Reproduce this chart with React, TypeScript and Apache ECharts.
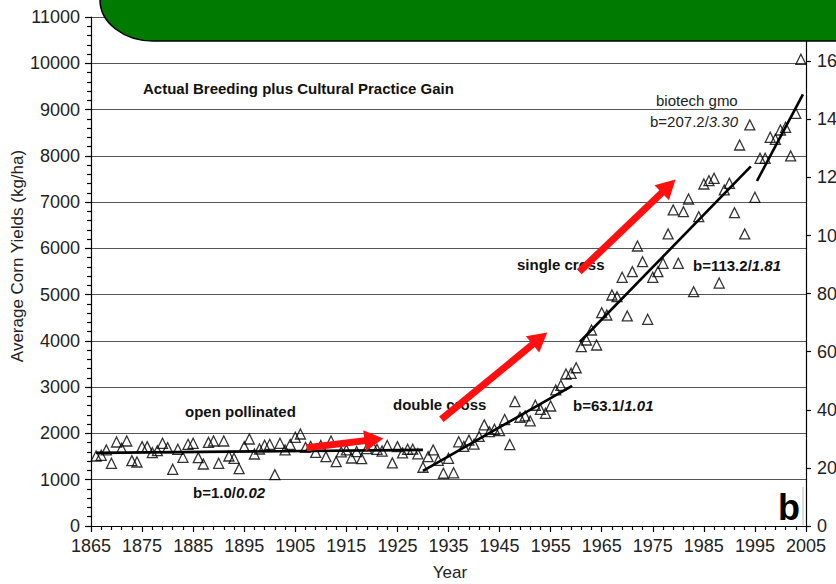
import React, { useEffect, useRef } from 'react';
import * as echarts from 'echarts';

const BASE_YEAR = 1865;
const BU_PER_ACRE_TO_KG_PER_HA = 62.77;

const xTickLabels = [1865, 1875, 1885, 1895, 1905, 1915, 1925, 1935, 1945, 1955, 1965, 1975, 1985, 1995, 2005];

const years = [
  1866, 1867, 1868, 1869, 1870, 1871, 1872, 1873, 1874, 1875,
  1876, 1877, 1878, 1879, 1880, 1881, 1882, 1883, 1884, 1885,
  1886, 1887, 1888, 1889, 1890, 1891, 1892, 1893, 1894, 1895,
  1896, 1897, 1898, 1899, 1900, 1901, 1902, 1903, 1904, 1905,
  1906, 1907, 1908, 1909, 1910, 1911, 1912, 1913, 1914, 1915,
  1916, 1917, 1918, 1919, 1920, 1921, 1922, 1923, 1924, 1925,
  1926, 1927, 1928, 1929, 1930, 1931, 1932, 1933, 1934, 1935,
  1936, 1937, 1938, 1939, 1940, 1941, 1942, 1943, 1944, 1945,
  1946, 1947, 1948, 1949, 1950, 1951, 1952, 1953, 1954, 1955,
  1956, 1957, 1958, 1959, 1960, 1961, 1962, 1963, 1964, 1965,
  1966, 1967, 1968, 1969, 1970, 1971, 1972, 1973, 1974, 1975,
  1976, 1977, 1978, 1979, 1980, 1981, 1982, 1983, 1984, 1985,
  1986, 1987, 1988, 1989, 1990, 1991, 1992, 1993, 1994, 1995,
  1996, 1997, 1998, 1999, 2000, 2001, 2002, 2003, 2004,
];

const yields = [
  1513, 1528, 1643, 1355, 1815, 1679, 1837, 1412, 1383, 1715,
  1715, 1585, 1628, 1787, 1693, 1225, 1657, 1484, 1765, 1787,
  1477, 1340, 1808, 1837, 1355, 1837, 1513, 1463, 1239, 1715,
  1880, 1556, 1664, 1744, 1765, 1109, 1787, 1643, 1765, 1917,
  1988, 1700, 1720, 1590, 1740, 1500, 1837, 1390, 1600, 1643,
  1470, 1607, 1455, 1670, 1760, 1657, 1620, 1740, 1365, 1715,
  1580, 1657, 1660, 1560, 1270, 1500, 1643, 1420, 1140, 1463,
  1150, 1820, 1720, 1855, 1770, 1935, 2185, 2040, 2090, 2060,
  2300, 1760, 2690, 2350, 2380, 2270, 2610, 2520, 2435, 2593,
  2940, 3040, 3285, 3300, 3420, 3875, 4020, 4236, 3912, 4610,
  4560, 4992, 4956, 5375, 4539, 5497, 6051, 5712, 4467, 5375,
  5497, 5677, 6311, 6830, 5677, 6793, 7067, 5064, 6685, 7391,
  7463, 7514, 5250, 7262, 7406, 6771, 8234, 6311, 8667, 7104,
  7946, 7946, 8400, 8357, 8558, 8616, 7997, 8919, 10086,
];

// regression segments [startYear, startYield], [endYear, endYield]
const fitOpenPollinated = [[1866, 1580], [1930, 1645]];
const fitDoubleCross = [[1930, 1190], [1959.2, 3030]];
const fitSingleCross = [[1960.7, 3977], [1994.2, 7770]];
const fitBiotech = [[1995.4, 7456], [2004.4, 9330]];

// red arrows: [start], [head]
const arrows = [
  [[1907.2, 1690], [1920.4, 1867]],
  [[1933.6, 2306], [1952.9, 4054]],
  [[1960.6, 5496], [1978.1, 7344]],
];

const FONT = 'Liberation Sans, Arial, Helvetica, sans-serif';
const ANN = 15;

const toX = (y: number) => y - BASE_YEAR;

export default function App() {
  const ref = useRef<HTMLDivElement>(null);

  useEffect(() => {
    const el = ref.current;
    if (!el) return;
    const Banner = echarts.graphic.extendPath(
      'M0 0 A53 41 0 0 0 53 41 L760 41 L760 -5 L0 -5 Z',
      {}
    );
    echarts.graphic.registerShape('greenBanner', Banner);

    const chart = echarts.init(el, null, { renderer: 'svg' });

    const scatterData = years.map((yr, i) => [toX(yr), yields[i]]);
    const fitSeries = [fitOpenPollinated, fitDoubleCross, fitSingleCross, fitBiotech].map((seg) => ({
      type: 'line',
      data: seg.map(([yr, v]) => [toX(yr), v]),
      showSymbol: false,
      symbol: 'none',
      lineStyle: { color: '#000', width: 2.6 },
      z: 3,
      silent: true,
    }));

    const bold = `bold ${ANN}px ${FONT}`;
    const boldItalic = `italic bold ${ANN}px ${FONT}`;

    const option: any = {
      animation: false,
      backgroundColor: '#fff',
      grid: { left: 91, right: 30, top: 17, bottom: 58, containLabel: false, outerBoundsMode: 'none' },
      xAxis: {
        type: 'value',
        min: toX(xTickLabels[0]),
        max: toX(xTickLabels[xTickLabels.length - 1]),
        interval: 10,
        axisLine: { show: true, onZero: false, lineStyle: { color: '#000', width: 1.2 } },
        axisTick: { show: true, inside: false, length: 6, lineStyle: { color: '#000', width: 1.2 } },
        minorTick: { show: true, splitNumber: 5, length: 4, lineStyle: { color: '#000', width: 1.2 } },
        axisLabel: {
          formatter: (v: number) => String(v + BASE_YEAR),
          color: '#222',
          fontFamily: FONT,
          fontSize: 18,
          margin: 11,
        },
        splitLine: { show: false },
      },
      yAxis: [
        {
          type: 'value',
          min: 0,
          max: 11000,
          interval: 1000,
          position: 'left',
          axisLine: { show: true, lineStyle: { color: '#000', width: 1.2 } },
          axisTick: { show: true, inside: false, length: 6, lineStyle: { color: '#000', width: 1.2 } },
          minorTick: { show: true, splitNumber: 5, length: 4, lineStyle: { color: '#000', width: 1.2 } },
          axisLabel: {
            color: '#222', fontFamily: FONT, fontSize: 18, margin: 11,
            formatter: (v: number) => String(v),
          },
          splitLine: { show: true, lineStyle: { color: '#555', width: 1.2 } },
        },
        {
          type: 'value',
          min: 0,
          max: 11000 / BU_PER_ACRE_TO_KG_PER_HA,
          interval: 20,
          position: 'right',
          axisLine: { show: true, lineStyle: { color: '#000', width: 1.2 } },
          axisTick: { show: true, inside: false, length: 5, lineStyle: { color: '#000', width: 1.2 } },
          axisLabel: {
            color: '#222',
            fontFamily: FONT,
            fontSize: 18,
            margin: 11,
            showMaxLabel: false,
            formatter: (v: number) => (Math.abs(v % 20) < 1e-6 ? String(v) : ''),
          },
          splitLine: { show: false },
        },
      ],
      series: [
        {
          type: 'scatter',
          data: scatterData,
          symbol: 'triangle',
          symbolSize: [10, 10],
          itemStyle: { color: 'rgba(255,255,255,0)', borderColor: '#000', borderWidth: 1.3 },
          z: 4,
          silent: true,
          markLine: {
            silent: true,
            symbol: ['none', 'triangle'],
            symbolSize: [21, 19],
            label: { show: false },
            lineStyle: { color: '#ff0f0f', width: 7, type: 'solid' },
            z: 6,
            data: arrows.map(([a, b]) => [
              { coord: [toX(a[0]), a[1]] },
              { coord: [toX(b[0]), b[1]] },
            ]),
          },
        },
        ...fitSeries,
      ],
      graphic: [
        {
          type: 'greenBanner',
          x: 100,
          y: 0,
          z: 100,
          style: { fill: '#007a00', stroke: '#000', lineWidth: 1.5 },
        },
        {
          type: 'text', x: 17, y: 256, rotation: Math.PI / 2,
          style: { text: 'Average Corn Yields (kg/ha)', font: `17px ${FONT}`, fill: '#222', align: 'center', verticalAlign: 'middle' },
        },
        {
          type: 'text', x: 450, y: 572,
          style: { text: 'Year', font: `17px ${FONT}`, fill: '#222', align: 'center', verticalAlign: 'middle' },
        },
        {
          type: 'text', x: 143, y: 88,
          style: { text: 'Actual Breeding plus Cultural Practice Gain', font: bold, fill: '#111', verticalAlign: 'middle' },
        },
        {
          type: 'text', x: 185, y: 411,
          style: { text: 'open pollinated', font: bold, fill: '#111', verticalAlign: 'middle' },
        },
        {
          type: 'text', x: 193, y: 492,
          style: {
            text: '{a|b=1.0/}{b|0.02}', verticalAlign: 'middle',
            rich: { a: { font: bold, fill: '#111' }, b: { font: boldItalic, fill: '#111' } },
          },
        },
        {
          type: 'text', x: 393, y: 404,
          style: { text: 'double cross', font: bold, fill: '#111', verticalAlign: 'middle' },
        },
        {
          type: 'text', x: 573, y: 405,
          style: {
            text: '{a|b=63.1/}{b|1.01}', verticalAlign: 'middle',
            rich: { a: { font: bold, fill: '#111' }, b: { font: boldItalic, fill: '#111' } },
          },
        },
        {
          type: 'text', x: 517, y: 264,
          style: { text: 'single cross', font: bold, fill: '#111', verticalAlign: 'middle' },
        },
        {
          type: 'text', x: 693, y: 265,
          style: {
            text: '{a|b=113.2/}{b|1.81}', verticalAlign: 'middle',
            rich: { a: { font: bold, fill: '#111' }, b: { font: boldItalic, fill: '#111' } },
          },
        },
        {
          type: 'text', x: 656, y: 100,
          style: { text: 'biotech gmo', font: `${ANN}px ${FONT}`, fill: '#222', verticalAlign: 'middle' },
        },
        {
          type: 'text', x: 650, y: 121,
          style: {
            text: '{a|b=207.2/}{b|3.30}', verticalAlign: 'middle',
            rich: { a: { font: `${ANN}px ${FONT}`, fill: '#222' }, b: { font: `italic ${ANN}px ${FONT}`, fill: '#222' } },
          },
        },
        {
          type: 'text', x: 789, y: 507,
          style: { text: 'b', font: `bold 36px ${FONT}`, fill: '#000', align: 'center', verticalAlign: 'middle' },
        },
        {
          type: 'line',
          shape: { x1: 803, y1: 487, x2: 803, y2: 525 },
          style: { stroke: '#bbb', lineWidth: 1 },
        },
      ],
    };

    chart.setOption(option);
    return () => {
      chart.dispose();
    };
  }, []);

  return (
    <div
      ref={ref}
      style={{ position: 'absolute', left: 0, top: 0, width: 836, height: 584, background: '#fff' }}
    />
  );
}
